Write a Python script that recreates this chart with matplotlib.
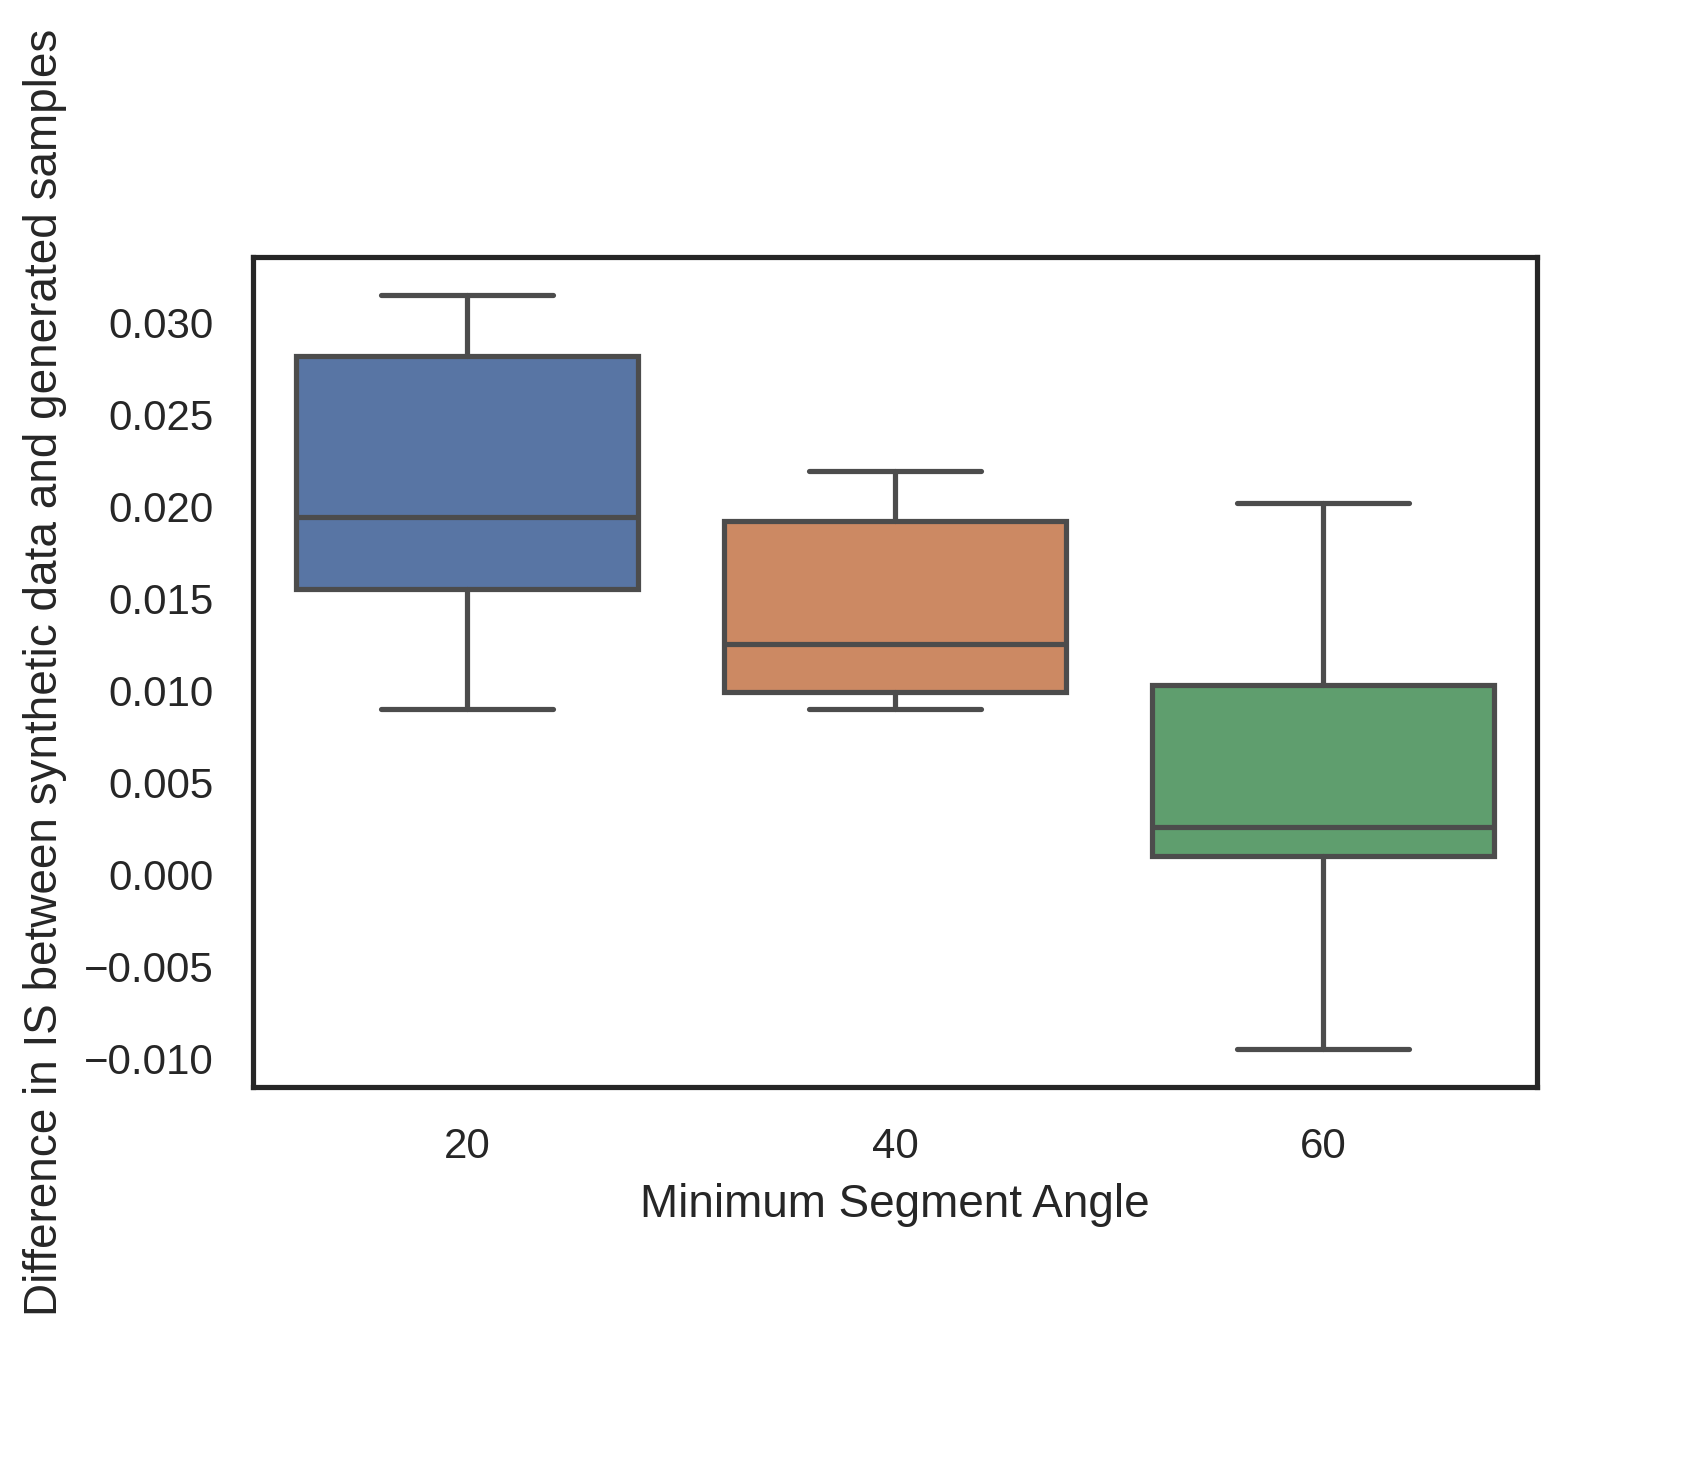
import matplotlib
matplotlib.use("Agg")
import matplotlib.pyplot as plt
from matplotlib.ticker import MultipleLocator, FuncFormatter
import seaborn as sns

# Valori (statistiche dei box)
ANGLES = ["20", "40", "60"]
WHISKER_LOW = [0.0090, 0.0090, -0.0095]
Q1 = [0.0155, 0.0099, 0.0010]
MEDIAN = [0.0194, 0.0125, 0.0026]
Q3 = [0.0282, 0.0192, 0.0103]
WHISKER_HIGH = [0.0315, 0.0219, 0.0202]
COLORS = ["#5875A4", "#CC8963", "#5F9E6E"]

sns.set_theme(style="white")
plt.rcParams['font.family'] = ['Liberation Sans', 'DejaVu Sans']
plt.rcParams['xtick.labelsize'] = 10.1
plt.rcParams['ytick.labelsize'] = 10.1
plt.rcParams['axes.labelsize'] = 11

fig = plt.figure(figsize=(1705 / 300, 1463 / 300), dpi=300)
ax = fig.add_axes([0.1484, 0.257, 0.7531, 0.5673])

stats = []
for i, name in enumerate(ANGLES):
    stats.append({
        'label': name,
        'whislo': WHISKER_LOW[i],
        'q1': Q1[i],
        'med': MEDIAN[i],
        'q3': Q3[i],
        'whishi': WHISKER_HIGH[i],
        'fliers': [],
    })

gray = "#4c4c4c"
bp = ax.bxp(stats, positions=range(len(ANGLES)), widths=0.8, patch_artist=True,
            showfliers=False,
            boxprops=dict(edgecolor=gray, linewidth=1.25),
            medianprops=dict(color=gray, linewidth=1.25),
            whiskerprops=dict(color=gray, linewidth=1.25),
            capprops=dict(color=gray, linewidth=1.25, solid_capstyle='round'),
            capwidths=0.4)
for patch, c in zip(bp['boxes'], COLORS):
    patch.set_facecolor(c)

ax.set_xlim(-0.5, 2.5)
ax.yaxis.set_major_locator(MultipleLocator(0.005))
ax.yaxis.set_major_formatter(FuncFormatter(lambda v, p: f"{v:.3f}".replace("-", "\u2212")))
ax.set_xlabel("Minimum Segment Angle")
ax.set_ylabel("Difference in IS between synthetic data and generated samples")
for s in ax.spines.values():
    s.set_color("#262626")
    s.set_linewidth(1.25)

fig.savefig("out.png", dpi=300)
